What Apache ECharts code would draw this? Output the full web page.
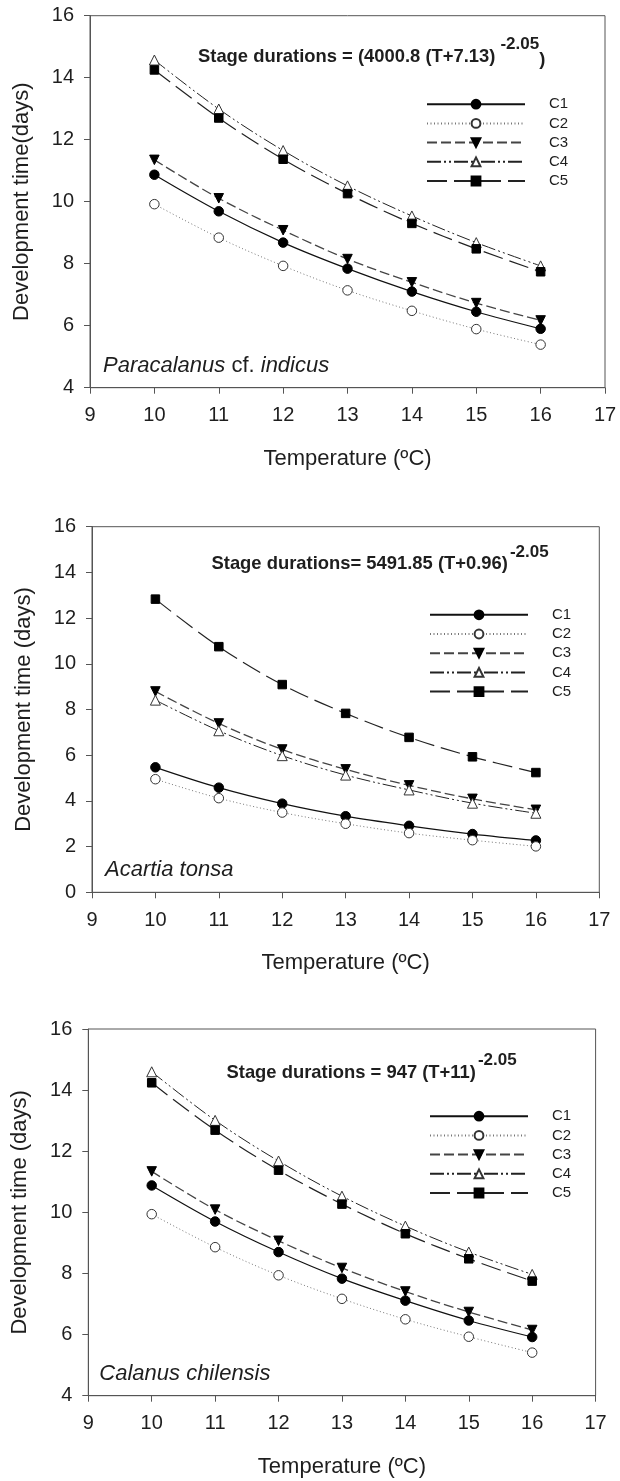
<!DOCTYPE html>
<html><head><meta charset="utf-8">
<script src="https://cdn.jsdelivr.net/npm/echarts@6/dist/echarts.min.js"></script>
<style>html,body{margin:0;padding:0;background:#fff}#c{width:620px;height:1481px}</style>
</head><body><div id="c"></div>
<script>
const temperature = [10, 11, 12, 13, 14, 15, 16];
const stages = ['C1', 'C2', 'C3', 'C4', 'C5'];
const yTicksTopBottom = [4, 16];
const yTicksMiddle = [0, 16];
const xTicks = [9, 17];

// Panel 1: Paracalanus cf. indicus
const p1C1 = [10.87, 9.69, 8.68, 7.84, 7.10, 6.45, 5.90];
const p1C2 = [9.92, 8.84, 7.93, 7.14, 6.48, 5.89, 5.39];
const p1C3 = [11.35, 10.11, 9.08, 8.15, 7.40, 6.73, 6.17];
const p1C4 = [14.57, 12.99, 11.65, 10.51, 9.54, 8.68, 7.93];
const p1C5 = [14.25, 12.70, 11.37, 10.26, 9.30, 8.48, 7.74];

// Panel 2: Acartia tonsa
const p2C1 = [5.47, 4.58, 3.88, 3.33, 2.91, 2.55, 2.27];
const p2C2 = [4.95, 4.12, 3.49, 3.00, 2.59, 2.28, 2.01];
const p2C3 = [8.79, 7.39, 6.25, 5.38, 4.68, 4.09, 3.61];
const p2C4 = [8.41, 7.07, 5.98, 5.13, 4.48, 3.90, 3.46];
const p2C5 = [12.83, 10.75, 9.09, 7.83, 6.78, 5.93, 5.24];

// Panel 3: Calanus chilensis
const p3C1 = [10.88, 9.70, 8.70, 7.83, 7.11, 6.46, 5.92];
const p3C2 = [9.94, 8.86, 7.94, 7.17, 6.50, 5.93, 5.41];
const p3C3 = [11.34, 10.09, 9.07, 8.18, 7.41, 6.74, 6.15];
const p3C4 = [14.60, 13.01, 11.68, 10.53, 9.55, 8.70, 7.97];
const p3C5 = [14.24, 12.69, 11.38, 10.27, 9.30, 8.48, 7.75];

const panelValues = [
  [p1C1, p1C2, p1C3, p1C4, p1C5],
  [p2C1, p2C2, p2C3, p2C4, p2C5],
  [p3C1, p3C2, p3C3, p3C4, p3C5]
];
const yRanges = [yTicksTopBottom, yTicksMiddle, yTicksTopBottom];
const yTitles = ['Development time(days)', 'Development time (days)', 'Development time (days)'];
const xTitle = 'Temperature (ºC)';

const FONT = '"Liberation Sans", Arial, sans-serif';
const TXT = '#1e1e1e';
const AX = '#555';

const stageStyle = {
  C1: {symbol: 'circle', symbolSize: 9.5, rotate: 0, fill: '#000', border: '#000', line: '#111', width: 1.2, type: 'solid'},
  C2: {symbol: 'circle', symbolSize: 9.5, rotate: 0, fill: '#fff', border: '#333', line: '#777', width: 1, type: [1, 2.5]},
  C3: {symbol: 'triangle', symbolSize: 9.5, rotate: 180, fill: '#000', border: '#000', line: '#444', width: 1.3, type: [10, 4]},
  C4: {symbol: 'triangle', symbolSize: 10, rotate: 0, fill: '#fff', border: '#333', line: '#222', width: 1, type: [14, 3, 2, 3, 2, 3]},
  C5: {symbol: 'rect', symbolSize: 8.5, rotate: 0, fill: '#000', border: '#000', line: '#222', width: 1.2, type: [20, 7]}
};

const grids = [
  {left: 90, top: 15.7, width: 515, height: 372},
  {left: 92, top: 526.7, width: 507.3, height: 365.6},
  {left: 88.3, top: 1029, width: 507.3, height: 366.7}
].map(g => Object.assign(g, {show: true, borderColor: AX, borderWidth: 1, backgroundColor: 'transparent', containLabel: false, outerBoundsMode: 'none'}));

const xAxes = grids.map((g, i) => ({
  type: 'value', gridIndex: i, min: xTicks[0], max: xTicks[1], interval: 1,
  axisLine: {show: true, onZero: false, lineStyle: {color: AX, width: 1}},
  axisTick: {show: true, inside: false, length: 6, lineStyle: {color: AX, width: 1}},
  axisLabel: {show: true, fontSize: 20, fontFamily: FONT, color: TXT, margin: 18, lineHeight: 20, showMinLabel: true, showMaxLabel: true},
  splitLine: {show: false},
  name: xTitle, nameLocation: 'middle', nameGap: 60,
  nameTextStyle: {fontSize: 22, fontFamily: FONT, color: TXT, lineHeight: 22}
}));

const yAxes = grids.map((g, i) => ({
  type: 'value', gridIndex: i, min: yRanges[i][0], max: yRanges[i][1], interval: 2,
  axisLine: {show: true, onZero: false, lineStyle: {color: AX, width: 1}},
  axisTick: {show: true, inside: false, length: 6, lineStyle: {color: AX, width: 1}},
  axisLabel: {show: true, fontSize: 20, fontFamily: FONT, color: TXT, margin: 16, showMinLabel: true, showMaxLabel: true},
  splitLine: {show: false},
  name: yTitles[i], nameLocation: 'middle', nameGap: 57, nameRotate: 90,
  nameTextStyle: {fontSize: 22, fontFamily: FONT, color: TXT, lineHeight: 22}
}));

const series = [];
panelValues.forEach((vals, p) => {
  stages.forEach((st, k) => {
    const s = stageStyle[st];
    series.push({
      type: 'line', name: st, xAxisIndex: p, yAxisIndex: p,
      data: temperature.map((t, j) => [t, vals[k][j]]),
      smooth: 0.35, showSymbol: true, symbol: s.symbol, symbolSize: s.symbolSize, symbolRotate: s.rotate,
      itemStyle: {color: s.fill, borderColor: s.border, borderWidth: 1, opacity: 1},
      lineStyle: {color: s.line, width: s.width, type: s.type},
      z: 2 + k, animation: false, silent: true
    });
  });
});

const legendBase = {
  orient: 'vertical', padding: 0, itemWidth: 98, itemHeight: 11, itemGap: 4.2,
  selectedMode: false, data: stages,
  textStyle: {fontSize: 15, lineHeight: 14, fontFamily: FONT, color: TXT, padding: [0, 0, 0, 19]}
};
const legends = [
  Object.assign({}, legendBase, {left: 426, top: 96.7}),
  Object.assign({}, legendBase, {left: 429, top: 607.3}),
  Object.assign({}, legendBase, {left: 429, top: 1108.7})
];

function eqRich(extraParen, raise) {
  return {
    m: {fontSize: 18.4, fontWeight: 'bold', fontFamily: FONT, color: TXT, lineHeight: 22},
    s: {fontSize: 17, fontWeight: 'bold', fontFamily: FONT, color: TXT, lineHeight: 22, padding: [0, 0, raise, extraParen ? 5 : 2]},
    p: {fontSize: 18.4, fontWeight: 'bold', fontFamily: FONT, color: TXT, lineHeight: 22, padding: [6, 0, 0, 0]}
  };
}
const titles = [
  {left: 198, top: 46.2, padding: 0, text: '{m|Stage durations = (4000.8 (T+7.13)}{s|-2.05}{p|)}', textStyle: {rich: eqRich(true, 26)}},
  {left: 211.5, top: 552.8, padding: 0, text: '{m|Stage durations= 5491.85 (T+0.96)}{s|-2.05}', textStyle: {rich: eqRich(false, 23)}},
  {left: 226.5, top: 1061.8, padding: 0, text: '{m|Stage durations = 947 (T+11)}{s|-2.05}', textStyle: {rich: eqRich(false, 25)}}
];

const spRich = {
  i: {fontSize: 22, fontStyle: 'italic', fontFamily: FONT, fill: TXT},
  n: {fontSize: 22, fontStyle: 'normal', fontFamily: FONT, fill: TXT}
};
const graphics = [
  {type: 'text', x: 103, y: 366, silent: true, style: {text: '{i|Paracalanus}{n| cf. }{i|indicus}', rich: spRich, verticalAlign: 'middle', fontSize: 22, fontFamily: FONT, fill: TXT}},
  {type: 'text', x: 105, y: 870, silent: true, style: {text: '{i|Acartia tonsa}', rich: spRich, verticalAlign: 'middle', fontSize: 22, fontFamily: FONT, fill: TXT}},
  {type: 'text', x: 99.3, y: 1374, silent: true, style: {text: '{i|Calanus chilensis}', rich: spRich, verticalAlign: 'middle', fontSize: 22, fontFamily: FONT, fill: TXT}}
];

const chart = echarts.init(document.getElementById('c'), null, {renderer: 'canvas'});
chart.setOption({
  backgroundColor: '#fff',
  animation: false,
  title: titles,
  legend: legends,
  grid: grids,
  xAxis: xAxes,
  yAxis: yAxes,
  series: series,
  graphic: graphics,
  tooltip: {show: false}
});
</script></body></html>
